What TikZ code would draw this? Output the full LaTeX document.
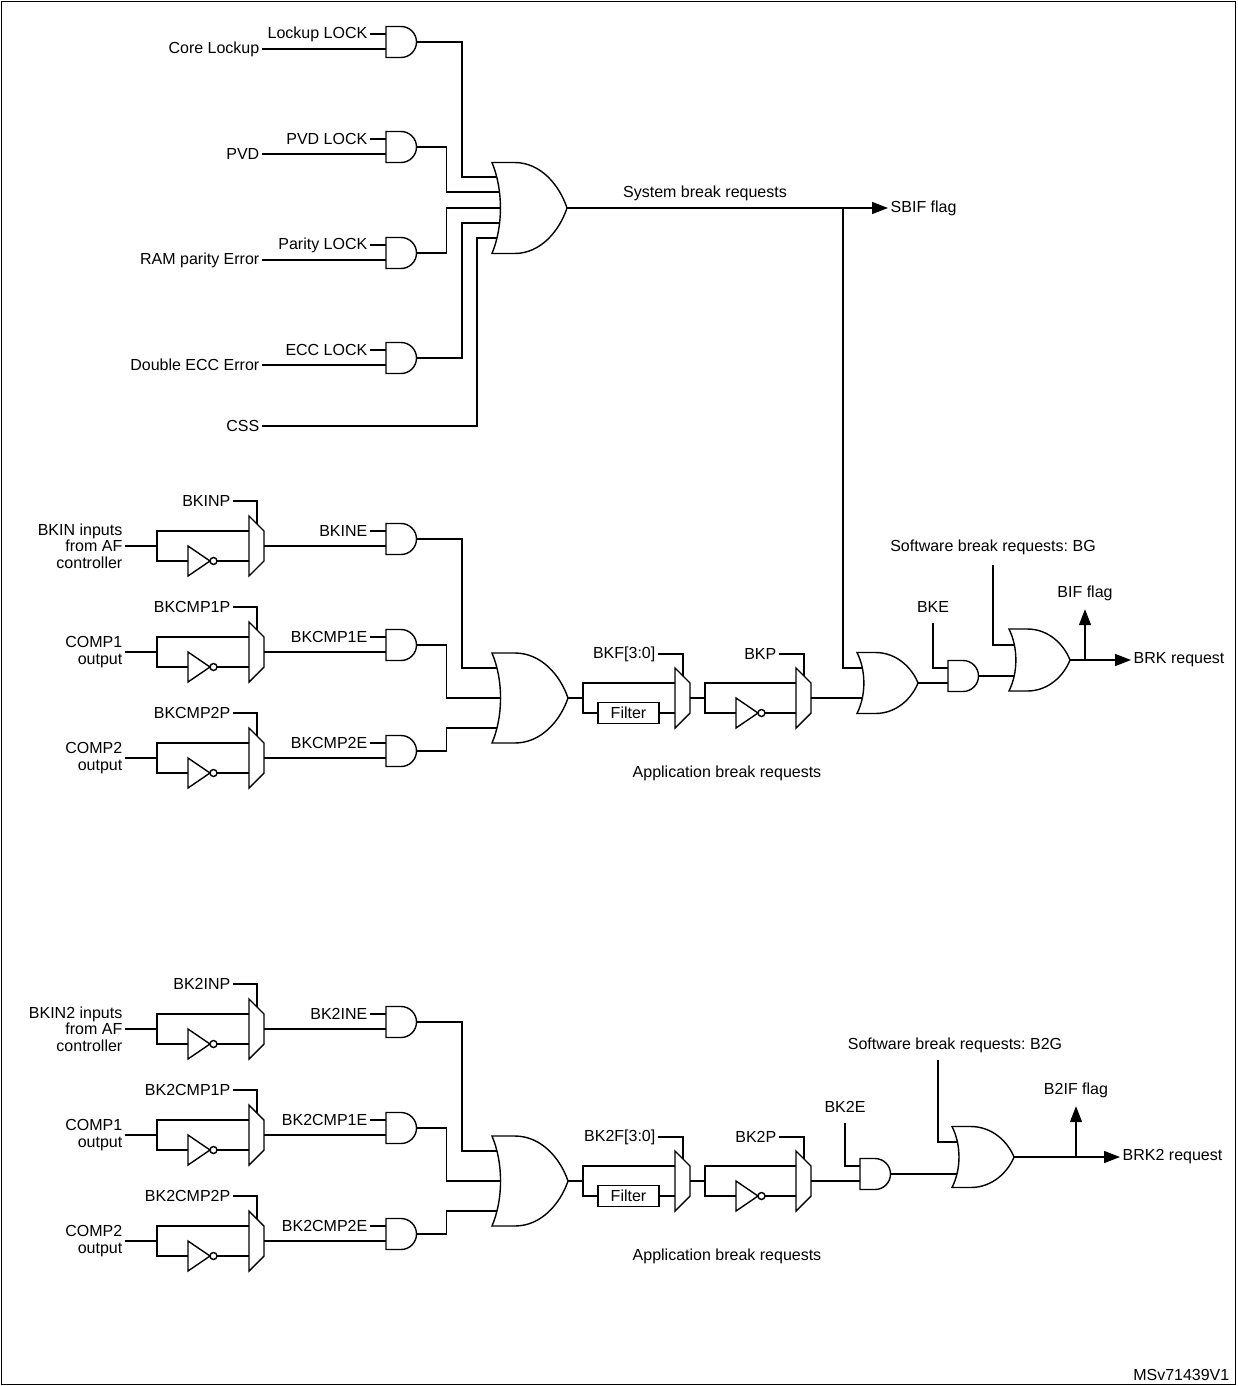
\documentclass[tikz,border=0pt]{standalone}
\usepackage{fontspec}
\setmainfont{Liberation Sans}
\usetikzlibrary{arrows.meta}
\frenchspacing

\begin{document}
\begin{tikzpicture}[x=0.5pt,y=-0.5pt,line width=0.7pt,>={Triangle[length=8pt,width=6pt]},
    font=\fontsize{8}{8.2}\selectfont,every node/.style={inner sep=1pt},
    pics/andg/.style={code={
        \draw[fill=white] (-15,-15.5) -- (0,-15.5) arc[start angle=-90,end angle=90,radius=15.5] -- (-15,15.5) -- cycle;
        \coordinate (-i1) at (-15,-8); \coordinate (-i2) at (-15,7); \coordinate (-o) at (15.5,0);}},
    pics/org/.style 2 args={code={
        \draw[fill=white] (0,-#2/2) -- (0.3*#1,-#2/2) .. controls (0.65*#1,-#2/2) and (0.9*#1,-0.25*#2) .. (#1,0)
            .. controls (0.9*#1,0.25*#2) and (0.65*#1,#2/2) .. (0.3*#1,#2/2) -- (0,#2/2)
            .. controls (0.15*#1,0.2*#2) and (0.15*#1,-0.2*#2) .. cycle;
        \coordinate (-o) at (#1,0);}},
    pics/mux/.style={code={
        \draw[fill=white] (0,-30) -- (15,-15) -- (15,15) -- (0,30) -- cycle;
        \coordinate (-a) at (0,-15); \coordinate (-b) at (0,15); \coordinate (-o) at (15,0); \coordinate (-s) at (8,-22);}},
    pics/inv/.style={code={
        \draw (0,-15) -- (22,0) -- (0,15) -- cycle (25.5,0) circle[radius=3.5];
        \coordinate (-i) at (0,0); \coordinate (-o) at (29,0);}}]
    \tikzstyle{lbl}=[anchor=east]
    \tikzstyle{flt}=[draw,fill=white,minimum width=30.5pt,minimum height=10.5pt,inner sep=0pt]

    \useasboundingbox (0,0) rectangle (1237,1386);
    \draw (1.5,1.5) rectangle (1235.5,1384.5);

    % system break inputs
    \pic (g1) at (401,42) {andg};
    \pic (g2) at (401,147) {andg};
    \pic (g3) at (401,253) {andg};
    \pic (g4) at (401,358) {andg};
    \node[lbl] (lk1) at (370,34) {Lockup LOCK};
    \node[lbl] (in1) at (262,49) {Core Lockup};
    \node[lbl] (lk2) at (370,139) {PVD LOCK};
    \node[lbl] (in2) at (262,154) {PVD};
    \node[lbl] (lk3) at (370,245) {Parity LOCK};
    \node[lbl] (in3) at (262,260) {RAM parity Error};
    \node[lbl] (lk4) at (370,350) {ECC LOCK};
    \node[lbl] (in4) at (262,365) {Double ECC Error};
    \node[lbl] (css) at (262,426) {CSS};
    \foreach \n in {1,2,3,4} {
        \draw (lk\n.east) -- (g\n-i1);
        \draw (in\n.east) -- (g\n-i2);
    }
    \coordinate (t1) at (505,177);
    \coordinate (t2) at (505,192);
    \coordinate (t3) at (505,208);
    \coordinate (t4) at (505,223);
    \coordinate (t5) at (505,238);
    \draw (g1-o) -- ++(45.5,0) |- (t1);
    \draw (g2-o) -- ++(30,0) |- (t2);
    \draw (g3-o) -- ++(30,0) |- (t3);
    \draw (g4-o) -- ++(45.5,0) |- (t4);
    \draw (css.east) -- ++(215,0) |- (t5);
    \pic (or1) at (492,208) {org={75}{91}};
    \node[anchor=west] (sbif) at (888,208) {SBIF flag};
    \draw[->] (or1-o) -- (sbif.west);
    \node (sys) at (705,193) {System break requests};
    \coordinate (j0) at (843,208);

    % application break paths
    \foreach \g/\dy/\bk/\bkin/\bkf/\bkp in {1/0/BK/BKIN/BKF/BKP, 2/483/BK2/BKIN2/BK2F/BK2P} {
        \begin{scope}[shift={(0,\dy)}]
            \foreach \r/\src/\s [count=\i] in {0/{\bkin\ inputs\\from AF\\controller}/IN, 106/{COMP1\\output}/CMP1, 212/{COMP2\\output}/CMP2} {
                \node[lbl,align=right] (src\g\i) at (125,546+\r) {\src};
                \pic (mx\g\i) at (249,546+\r) {mux};
                \pic (iv\g\i) at (188,561+\r) {inv};
                \coordinate (br\g\i) at (157,546+\r);
                \draw (src\g\i.east) -- (br\g\i) |- (mx\g\i-a);
                \draw (br\g\i) |- (iv\g\i-i);
                \draw (iv\g\i-o) -- (mx\g\i-b);
                \node[lbl] (sel\g\i) at (233,501+\r) {\bk\s P};
                \draw (sel\g\i.east) -| (mx\g\i-s);
                \pic (ag\g\i) at (401,539+\r) {andg};
                \node[lbl] (en\g\i) at (370,531+\r) {\bk\s E};
                \draw (en\g\i.east) -- (ag\g\i-i1);
                \draw (mx\g\i-o) -- (ag\g\i-i2);
            }
            \coordinate (u\g1) at (502,668);
            \coordinate (u\g2) at (502,698);
            \coordinate (u\g3) at (502,728);
            \draw (ag\g1-o) -- ++(45.5,0) |- (u\g1);
            \draw (ag\g2-o) -- ++(30,0) |- (u\g2);
            \draw (ag\g3-o) -- ++(30,0) |- (u\g3);
            \pic (oa\g) at (492,698) {org={76}{90}};
            \coordinate (b\g) at (583,698);
            \coordinate (c\g) at (705,698);
            \pic (mf\g) at (675,698) {mux};
            \pic (mp\g) at (796,698) {mux};
            \node[flt] (fl\g) at (628.5,713) {Filter};
            \draw (oa\g-o) -- (b\g) |- (mf\g-a);
            \draw (b\g) |- (fl\g.west);
            \draw (fl\g.east) -- (mf\g-b);
            \node[lbl] (fs\g) at (658,654) {\bkf[3:0]};
            \draw (fs\g.east) -| (mf\g-s);
            \pic (ip\g) at (736,713) {inv};
            \draw (mf\g-o) -- (c\g) |- (mp\g-a);
            \draw (c\g) |- (ip\g-i);
            \draw (ip\g-o) -- (mp\g-b);
            \node[lbl] (ps\g) at (779,654) {\bkp};
            \draw (ps\g.east) -| (mp\g-s);
            \node (app\g) at (727,773) {Application break requests};
        \end{scope}
    }

    % BRK output
    \coordinate (v1) at (864,668);
    \coordinate (v2) at (864,698);
    \draw (j0) |- (v1);
    \draw (mp1-o) -- (v2);
    \pic (ob) at (857,683) {org={61}{61}};
    \pic (ae) at (963,676) {andg};
    \draw (ob-o) -- (ae-i2);
    \node (bke) at (933,607) {BKE};
    \draw ([yshift=-4pt]bke.south) |- (ae-i1);
    \node (sw1) at (993,547) {Software break requests: BG};
    \coordinate (w1) at (1015,645);
    \coordinate (w2) at (1015,676);
    \draw ([yshift=-4pt]sw1.south) |- (w1);
    \draw (ae-o) -- (w2);
    \pic (oc) at (1009,660) {org={61}{62}};
    \node[anchor=west] (brk) at (1131,660) {BRK request};
    \draw[->] (oc-o) -- (brk.west);
    \coordinate (k1) at (1085,660);
    \node (bif) at (1085,593) {BIF flag};
    \draw[->] (k1) -- ([yshift=-3pt]bif.south);

    % BRK2 output
    \pic (ae2) at (875,1174) {andg};
    \draw (mp2-o) -- (ae2-i2);
    \node (bk2e) at (845,1107) {BK2E};
    \draw ([yshift=-4pt]bk2e.south) |- (ae2-i1);
    \node (sw2) at (955,1045) {Software break requests: B2G};
    \coordinate (q2) at (938,1060);
    \coordinate (w3) at (958,1142);
    \coordinate (w4) at (958,1174);
    \draw (q2) |- (w3);
    \draw (ae2-o) -- (w4);
    \pic (od) at (952,1157) {org={62}{61}};
    \node[anchor=west] (brk2) at (1120,1157) {BRK2 request};
    \draw[->] (od-o) -- (brk2.west);
    \coordinate (k2) at (1076,1157);
    \node (b2if) at (1076,1090) {B2IF flag};
    \draw[->] (k2) -- ([yshift=-3pt]b2if.south);

    \node[anchor=south east] (ms) at (1232,1383) {MSv71439V1};
\end{tikzpicture}
\end{document}
